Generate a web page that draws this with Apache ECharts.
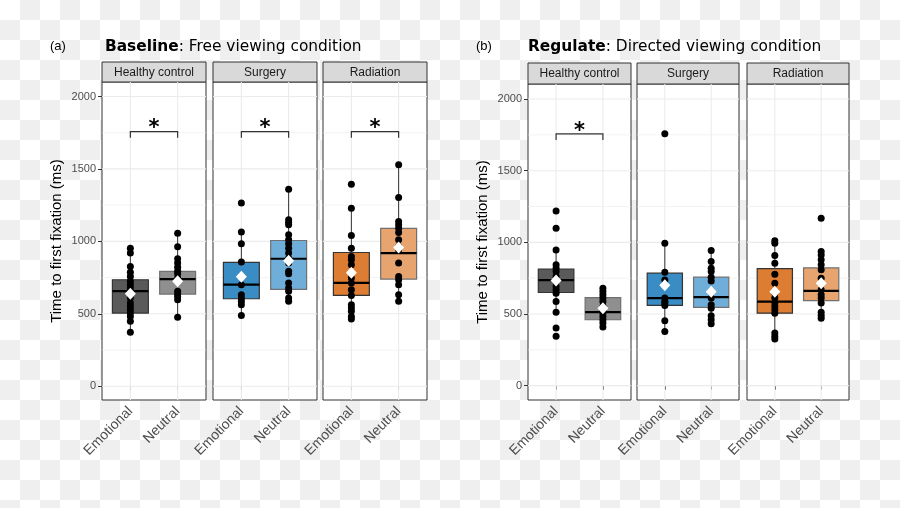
<!DOCTYPE html>
<html><head><meta charset="utf-8">
<script src="https://cdn.jsdelivr.net/npm/echarts@6/dist/echarts.min.js"></script>
<style>
html,body{margin:0;padding:0;width:900px;height:508px;overflow:hidden;
background:repeating-conic-gradient(#efefef 0% 25%, #ffffff 0% 50%) 0 0/40px 40px;}
#c{width:900px;height:508px;}
</style></head><body><div id="c"></div>
<script>
// ---------- data ----------
const groups = ['Healthy control', 'Surgery', 'Radiation'];
const conditions = ['Emotional', 'Neutral'];
const yTickValues = [0, 500, 1000, 1500, 2000];
const yMinorValues = [250, 750, 1250, 1750];
const panelTitlesBold = ['Baseline', 'Regulate'];
const panelTitlesRest = [': Free viewing condition', ': Directed viewing condition'];
const panelTags = ['(a)', '(b)'];
const yAxisTitle = 'Time to first fixation (ms)';

// Baseline (a): individual points
const baseHcEmo = [953, 919, 827, 786, 758, 724, 701, 678, 643, 609, 574, 551, 528, 505, 482, 448, 372];
const baseHcNeu = [1056, 963, 880, 850, 822, 793, 776, 747, 724, 655, 636, 620, 597, 476];
const baseSuEmo = [1264, 1064, 983, 857, 701, 632, 609, 586, 563, 489];
const baseSuNeu = [1360, 1149, 1131, 1114, 1045, 1011, 983, 953, 919, 884, 850, 793, 776, 712, 678, 655, 609, 586];
const baseRaEmo = [1394, 1229, 1041, 953, 896, 873, 839, 781, 747, 712, 666, 627, 563, 540, 517, 482, 464];
const baseRaNeu = [1528, 1303, 1137, 1114, 1091, 1061, 1011, 965, 942, 850, 758, 735, 701, 632, 586];
// box stats [lower whisker, Q1, median, Q3, upper whisker]
const baseHcEmoBox = [372, 505, 657, 735, 953];
const baseHcNeuBox = [476, 636, 740, 793, 1056];
const baseSuEmoBox = [489, 604, 701, 855, 1064];
const baseSuNeuBox = [586, 668, 880, 1006, 1360];
const baseRaEmoBox = [464, 627, 714, 923, 1229];
const baseRaNeuBox = [586, 740, 919, 1089, 1528];
const baseMeans = [[639, 724], [756, 866], [784, 958]];
const baseSig = [true, true, true];

// Regulate (b)
const regHcEmo = [1219, 1098, 947, 843, 820, 796, 762, 727, 692, 669, 645, 587, 513, 402, 344];
const regHcNeu = [680, 657, 634, 611, 587, 553, 529, 506, 483, 460, 437, 409];
const regSuEmo = [1757, 994, 792, 738, 611, 587, 576, 560, 453, 378];
const regSuNeu = [943, 866, 820, 796, 757, 731, 657, 611, 564, 541, 488, 460, 432];
const regRaEmo = [1012, 994, 908, 854, 778, 715, 645, 611, 576, 553, 529, 506, 367, 344, 325];
const regRaNeu = [1168, 936, 912, 878, 843, 808, 750, 715, 669, 634, 611, 576, 513, 490, 471];
const regHcEmoBox = [513, 650, 736, 813, 947];
const regHcNeuBox = [409, 460, 513, 615, 680];
const regSuEmoBox = [378, 560, 611, 785, 994];
const regSuNeuBox = [432, 546, 618, 757, 943];
const regRaEmoBox = [325, 506, 587, 817, 1012];
const regRaNeuBox = [471, 594, 662, 822, 936];
const regMeans = [[734, 541], [701, 655], [655, 715]];
const regSig = [true, false, false];

// significance bracket values [bar level, tip level, star level]
const sigLevels = [1757, 1715, 1810];

// ---------- styling / layout ----------
const fills = [['#5a5a5a', '#8f8f8f'], ['#3a8cc4', '#6faed8'], ['#dd7c33', '#e8a46e']];
const boxStroke = ['#333333', '#707070'];
const layouts = [
  {lefts: [102, 213, 323], widths: [104, 104, 104], top: 82, bottom: 400, stripTop: 62, yMin: -95, yMax: 2100, tagX: 50, titleX: 105},
  {lefts: [528, 637, 747], widths: [103, 102, 102], top: 84, bottom: 400, stripTop: 63, yMin: -100, yMax: 2105, tagX: 476, titleX: 528}
];
const panelPoints = [
  [[baseHcEmo, baseHcNeu], [baseSuEmo, baseSuNeu], [baseRaEmo, baseRaNeu]],
  [[regHcEmo, regHcNeu], [regSuEmo, regSuNeu], [regRaEmo, regRaNeu]]
];
const panelBoxes = [
  [[baseHcEmoBox, baseHcNeuBox], [baseSuEmoBox, baseSuNeuBox], [baseRaEmoBox, baseRaNeuBox]],
  [[regHcEmoBox, regHcNeuBox], [regSuEmoBox, regSuNeuBox], [regRaEmoBox, regRaNeuBox]]
];
const panelMeans = [baseMeans, regMeans];
const panelSig = [baseSig, regSig];

const grid = [], xAxis = [], yAxis = [], series = [], graphic = [];
const AX = 'Liberation Sans';

layouts.forEach((L, p) => {
  graphic.push({type: 'text', x: L.tagX, y: 46.5, style: {text: panelTags[p], fontSize: 13, fontFamily: AX, fill: '#000', verticalAlign: 'middle'}});
  graphic.push({type: 'text', x: L.titleX, y: 47, style: {
    text: '{b|' + panelTitlesBold[p] + '}' + panelTitlesRest[p],
    fontSize: 15.4, fontFamily: 'DejaVu Sans', fill: '#000', verticalAlign: 'middle',
    rich: {b: {fontWeight: 'bold', fontSize: 15.4, fontFamily: 'DejaVu Sans', fill: '#000'}}
  }});
  groups.forEach((g, f) => {
    const gi = grid.length;
    const left = L.lefts[f], w = L.widths[f];
    grid.push({left: left, top: L.top, width: w, height: L.bottom - L.top, show: true,
      borderColor: '#333', borderWidth: 1, backgroundColor: '#fff', containLabel: false, outerBoundsMode: 'none'});
    graphic.push({type: 'rect', shape: {x: left, y: L.stripTop, width: w, height: L.top - L.stripTop},
      style: {fill: '#d9d9d9', stroke: '#333', lineWidth: 1}});
    graphic.push({type: 'text', x: left + w / 2, y: (L.stripTop + L.top) / 2 + 0.5,
      style: {text: g, fontSize: 12, fontFamily: AX, fill: '#1a1a1a', align: 'center', verticalAlign: 'middle'}});
    const first = f === 0;
    xAxis.push({gridIndex: gi, type: 'value', min: 0.4, max: 2.6,
      axisLine: {show: false}, splitLine: {show: false},
      axisTick: {show: true, length: 4, lineStyle: {color: '#333'}, customValues: [1, 2]},
      axisLabel: {customValues: [1, 2], formatter: v => conditions[Math.round(v) - 1] || '', rotate: 45, margin: 9,
        fontSize: 14, fontFamily: AX, color: '#4d4d4d'}});
    yAxis.push({gridIndex: gi, type: 'value', min: L.yMin, max: L.yMax,
      axisLine: {show: false}, splitLine: {show: false},
      axisTick: {show: first, length: 4, lineStyle: {color: '#333'}, customValues: yTickValues},
      axisLabel: {show: first, customValues: yTickValues, formatter: v => String(Math.round(v)),
        fontSize: 11, fontFamily: AX, color: '#4d4d4d', margin: 6},
      name: first ? yAxisTitle : '', nameLocation: 'middle', nameGap: 38,
      nameTextStyle: {fontSize: 15, fontFamily: AX, color: '#000'}});

    // gridlines
    const hData = yTickValues.map(v => [v, 1]).concat(yMinorValues.map(v => [v, 0]));
    series.push({type: 'custom', xAxisIndex: gi, yAxisIndex: gi, z: 1, silent: true, data: hData,
      renderItem: (params, api) => {
        const v = api.value(0), major = api.value(1);
        const a = api.coord([0.4, v]), b = api.coord([2.6, v]);
        return {type: 'line', shape: {x1: a[0], y1: a[1], x2: b[0], y2: b[1]},
          style: {stroke: '#ebebeb', lineWidth: major ? 1.1 : 0.6}};
      }});
    series.push({type: 'custom', xAxisIndex: gi, yAxisIndex: gi, z: 1, silent: true, data: [[1], [2]],
      renderItem: (params, api) => {
        const x = api.value(0);
        const a = api.coord([x, L.yMin]), b = api.coord([x, L.yMax]);
        return {type: 'line', shape: {x1: a[0], y1: a[1], x2: b[0], y2: b[1]},
          style: {stroke: '#ebebeb', lineWidth: 1.1}};
      }});

    // boxes
    const boxes = panelBoxes[p][f];
    series.push({type: 'custom', xAxisIndex: gi, yAxisIndex: gi, z: 2, silent: true,
      data: boxes.map((b, c) => [c + 1].concat(b).concat([c])),
      renderItem: (params, api) => {
        const x = api.value(0), c = api.value(6);
        const mn = api.coord([x, api.value(1)]), q1 = api.coord([x, api.value(2)]),
          md = api.coord([x, api.value(3)]), q3 = api.coord([x, api.value(4)]), mx = api.coord([x, api.value(5)]);
        const half = api.size([0.76, 0])[0] / 2;
        return {type: 'group', children: [
          {type: 'line', shape: {x1: mn[0], y1: mn[1], x2: q1[0], y2: q1[1]}, style: {stroke: '#333', lineWidth: 1}},
          {type: 'line', shape: {x1: q3[0], y1: q3[1], x2: mx[0], y2: mx[1]}, style: {stroke: '#333', lineWidth: 1}},
          {type: 'rect', shape: {x: q3[0] - half, y: q3[1], width: half * 2, height: q1[1] - q3[1]},
            style: {fill: fills[f][c], stroke: boxStroke[c], lineWidth: 1.2}},
          {type: 'line', shape: {x1: md[0] - half, y1: md[1], x2: md[0] + half, y2: md[1]}, style: {stroke: '#000', lineWidth: 2.2}}
        ]};
      }});

    // points
    const pts = panelPoints[p][f];
    series.push({type: 'scatter', xAxisIndex: gi, yAxisIndex: gi, z: 3, silent: true, symbolSize: 7,
      itemStyle: {color: '#000', opacity: 1},
      data: pts[0].map(v => [1, v]).concat(pts[1].map(v => [2, v]))});

    // means
    series.push({type: 'scatter', xAxisIndex: gi, yAxisIndex: gi, z: 4, silent: true, symbol: 'diamond', symbolSize: [11, 12],
      itemStyle: {color: '#fff', opacity: 1},
      data: panelMeans[p][f].map((v, c) => [c + 1, v])});

    // significance bracket
    if (panelSig[p][f]) {
      series.push({type: 'custom', xAxisIndex: gi, yAxisIndex: gi, z: 5, silent: true,
        data: [[1, 2].concat(sigLevels)],
        renderItem: (params, api) => {
          const x1 = api.value(0), x2 = api.value(1), bar = api.value(2), tip = api.value(3), star = api.value(4);
          const a = api.coord([x1, tip]), b = api.coord([x1, bar]), c2 = api.coord([x2, bar]), d = api.coord([x2, tip]);
          const s = api.coord([(x1 + x2) / 2, star]);
          return {type: 'group', children: [
            {type: 'polyline', shape: {points: [a, b, c2, d]}, style: {stroke: '#333', lineWidth: 1.2, fill: null}},
            {type: 'text', x: s[0], y: s[1] + 5, style: {text: '*', fontSize: 21, fontWeight: 'bold', fontFamily: 'DejaVu Sans',
              fill: '#000', align: 'center', verticalAlign: 'middle'}}
          ]};
        }});
    }
  });
});

const chart = echarts.init(document.getElementById('c'), null, {renderer: 'canvas'});
chart.setOption({backgroundColor: 'transparent', animation: false, grid, xAxis, yAxis, series, graphic});
</script></body></html>
